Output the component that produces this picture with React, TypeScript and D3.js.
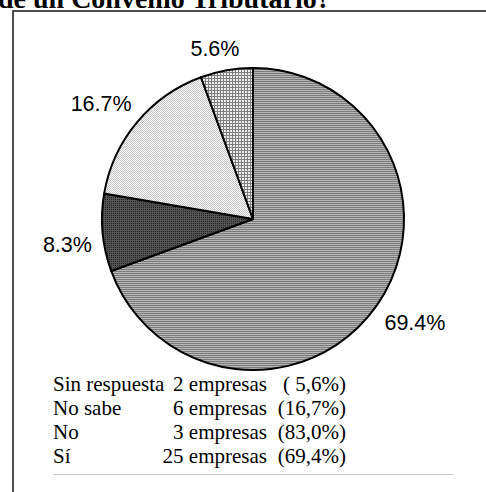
import React from "react";
import * as d3 from "d3";

const categories = ["Sí", "No", "No sabe", "Sin respuesta"];
const counts = [25, 3, 6, 2];
const percentLabels = ["69.4%", "8.3%", "16.7%", "5.6%"];
const shares = [69.4, 8.3, 16.7, 5.6];
const legendNames = ["Sin respuesta", "No sabe", "No", "Sí"];
const legendCounts = ["2 empresas", "6 empresas", "3 empresas", "25 empresas"];
const legendPercents = ["( 5,6%)", "(16,7%)", "(83,0%)", "(69,4%)"];
const titleText = "de un Convenio Tributario?";

const W = 486;
const H = 492;
const cx = 253;
const cy = 219;
const R = 151;
const patternIds = ["pSi", "pNo", "pNoSabe", "pSin"];

export default function App() {
  const pie = d3.pie<number>().value((d) => d).sort(null);
  const arcs = pie(shares);
  const arcGen = d3.arc<d3.PieArcDatum<number>>().innerRadius(0).outerRadius(R);

  const labelFont = 21.5;
  const charW: Record<string, number> = { ".": 0.278, "%": 0.889 };
  const textWidth = (s: string) =>
    s.split("").reduce((a, c) => a + (charW[c] ?? 0.556), 0) * labelFont;
  const capH = 0.716 * labelFont;
  const gap = 11;
  const angleBias = (-2.5 * Math.PI) / 180;

  const legendY = d3.scaleBand<number>().domain([0, 1, 2, 3]).range([373, 469]);

  return (
    <svg width={W} height={H} style={{ position: "absolute", left: 0, top: 0 }}>
      <defs>
        <pattern id="pSi" width="2" height="2" patternUnits="userSpaceOnUse">
          <rect width="2" height="2" fill="#b4b4b4" />
          <rect width="2" height="1" fill="#7c7c7c" />
        </pattern>
        <pattern id="pNo" width="2" height="2" patternUnits="userSpaceOnUse">
          <rect width="2" height="2" fill="#545454" />
          <rect width="1" height="1" fill="#242424" />
        </pattern>
        <pattern id="pNoSabe" width="2" height="2" patternUnits="userSpaceOnUse">
          <rect width="2" height="2" fill="#ffffff" />
          <rect width="1" height="1" fill="#c4c4c4" />
          <rect x="1" y="1" width="1" height="1" fill="#c4c4c4" />
        </pattern>
        <pattern id="pSin" width="3" height="3" patternUnits="userSpaceOnUse">
          <rect width="3" height="3" fill="#eeeeee" />
          <rect width="3" height="1" fill="#7e7e7e" />
          <rect width="1" height="3" fill="#7e7e7e" />
        </pattern>
      </defs>
      <rect width={W} height={H} fill="#ffffff" />
      <text
        x={-2}
        y={8}
        fontFamily="'Liberation Serif', 'Times New Roman', serif"
        fontWeight="bold"
        fontSize={28}
        fill="#000"
      >
        {titleText}
      </text>
      <rect x={13} y={11} width={W + 20} height={H + 20} fill="none" stroke="#222" strokeWidth={1.6} />
      <g transform={`translate(${cx},${cy})`}>
        {arcs.map((a, i) => (
          <path
            key={categories[i]}
            d={arcGen(a) ?? ""}
            fill={`url(#${patternIds[i]})`}
            stroke="#000"
            strokeWidth={2}
            strokeLinejoin="round"
          />
        ))}
        {arcs.map((a, i) => {
          const mid = (a.startAngle + a.endAngle) / 2 + angleBias;
          const sx = Math.sin(mid);
          const cyy = -Math.cos(mid);
          const w = textWidth(percentLabels[i]);
          const ext = Math.abs(sx) * (w / 2) + Math.abs(cyy) * (capH / 2);
          const d = R + gap + ext;
          const x = sx * d;
          const y = cyy * d;
          return (
            <text
              key={"l" + i}
              x={x}
              y={y + capH / 2}
              textAnchor="middle"
              fontFamily="'Liberation Sans', Arial, sans-serif"
              fontSize={labelFont}
              fill="#000"
            >
              {percentLabels[i]}
            </text>
          );
        })}
      </g>
      <g fontFamily="'Liberation Serif', 'Times New Roman', serif" fontSize={21} fill="#000">
        {legendNames.map((n, i) => {
          const y = (legendY(i) ?? 0) + legendY.bandwidth() * 0.75;
          return (
            <g key={n}>
              <text x={53} y={y}>{n}</text>
              <text x={267} y={y} textAnchor="end">{legendCounts[i]}</text>
              <text x={346} y={y} textAnchor="end" style={{ whiteSpace: "pre" }}>
                {legendPercents[i]}
              </text>
            </g>
          );
        })}
      </g>
      <line x1={53} x2={453} y1={474.5} y2={474.5} stroke="#c8c8c8" strokeWidth={1} />
    </svg>
  );
}
